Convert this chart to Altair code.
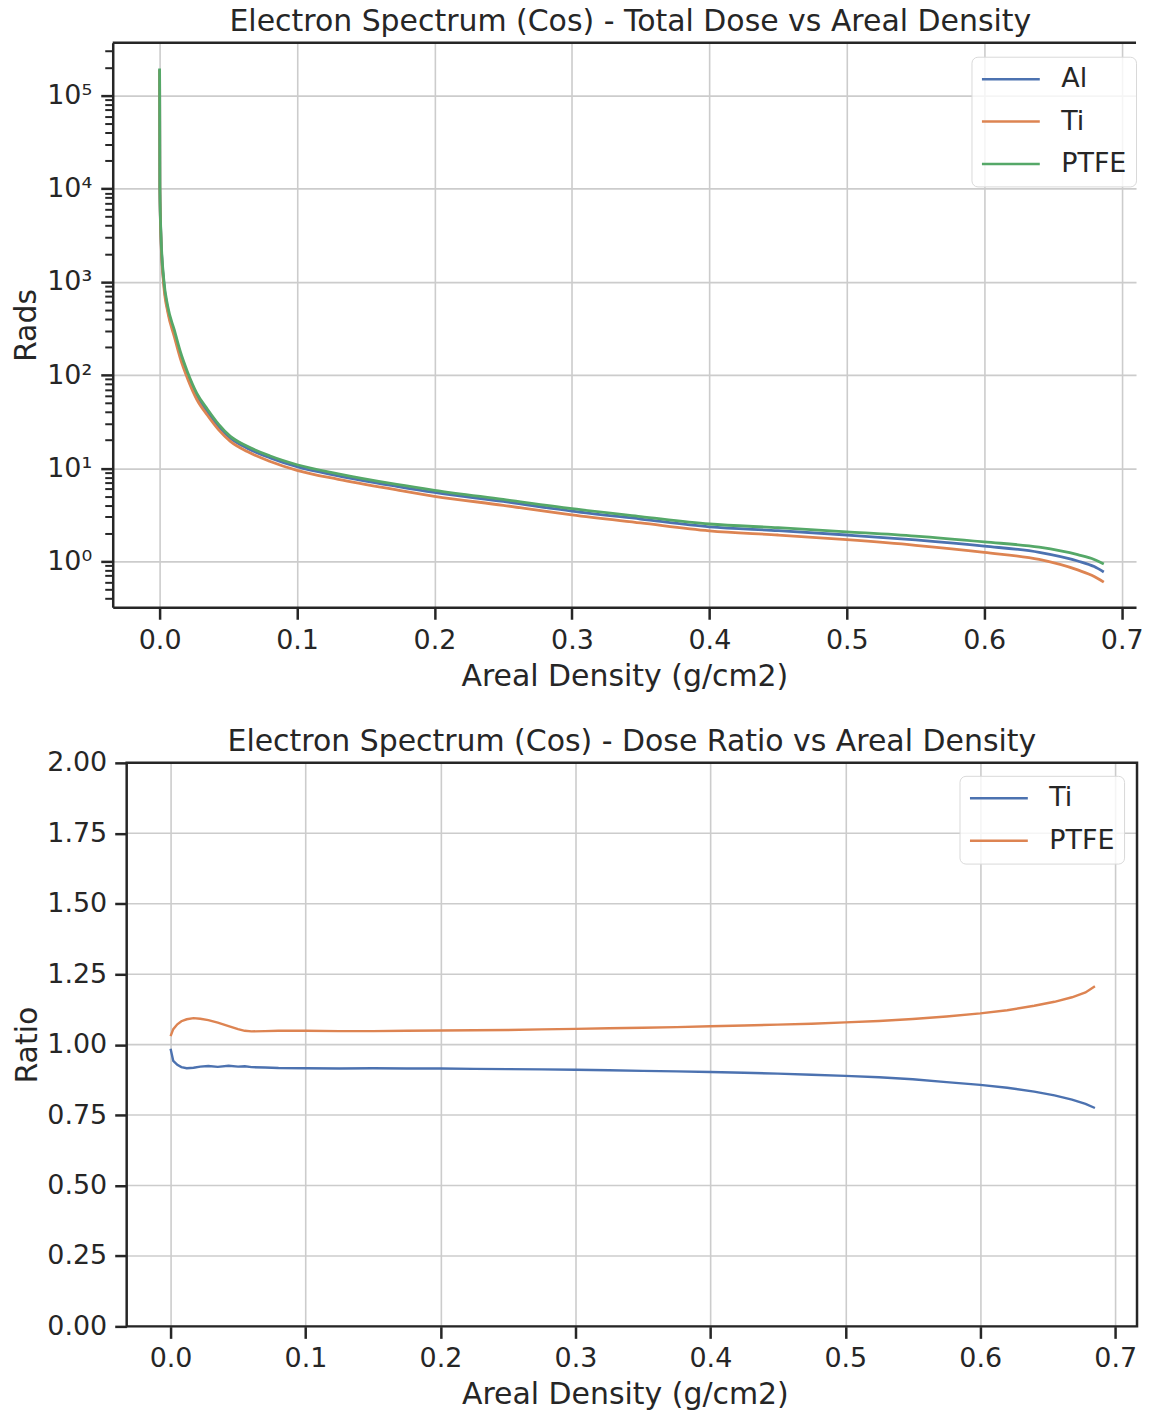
import altair as alt
import pandas as pd

# ---------------- data ----------------
dose_x = [0, 0.0002, 0.001, 0.003, 0.006, 0.0107, 0.015, 0.0203, 0.027, 0.0348,
          0.043, 0.0515, 0.0638, 0.08, 0.1, 0.13, 0.1726, 0.2, 0.25, 0.3,
          0.35, 0.4, 0.45, 0.5, 0.55, 0.6, 0.64, 0.668, 0.68, 0.687]
dose_al = [190000, 10000, 3000, 1000, 500, 280, 165, 100, 60, 40,
           28, 21, 16.4, 13.0, 10.4, 8.3, 6.4, 5.5, 4.4, 3.47,
           2.85, 2.35, 2.14, 1.92, 1.7, 1.46, 1.25, 1.01, 0.88, 0.77]
dose_ti = [188000, 9800, 2850, 930, 470, 258, 152, 92, 55, 37,
           25.8, 19.4, 15.1, 11.9, 9.5, 7.6, 5.85, 5.0, 4.0, 3.16,
           2.59, 2.13, 1.92, 1.71, 1.49, 1.25, 1.05, 0.81, 0.69, 0.6]
dose_ptfe = [195000, 10500, 3200, 1080, 540, 305, 180, 108, 64, 43,
             29.6, 22, 17.2, 13.6, 10.9, 8.7, 6.7, 5.8, 4.62, 3.68,
             3.03, 2.52, 2.3, 2.08, 1.87, 1.62, 1.42, 1.18, 1.05, 0.94]

ratio_x = [0, 0.002, 0.005, 0.008, 0.012, 0.017, 0.022, 0.028, 0.035, 0.043,
           0.05, 0.055, 0.06, 0.07, 0.08, 0.1, 0.125, 0.15, 0.175, 0.2,
           0.225, 0.25, 0.275, 0.3, 0.325, 0.35, 0.375, 0.4, 0.425, 0.45,
           0.475, 0.5, 0.525, 0.55, 0.575, 0.6, 0.62, 0.64, 0.655, 0.668,
           0.678, 0.685]
ratio_ti = [0.985, 0.942, 0.928, 0.92, 0.916, 0.918, 0.922, 0.924, 0.921, 0.925,
            0.922, 0.923, 0.920, 0.919, 0.917, 0.916, 0.915, 0.916, 0.915, 0.915,
            0.914, 0.913, 0.912, 0.911, 0.909, 0.907, 0.905, 0.903, 0.900, 0.897,
            0.893, 0.889, 0.884, 0.877, 0.867, 0.857, 0.847, 0.833, 0.82, 0.805,
            0.79, 0.775]
ratio_ptfe = [1.030, 1.055, 1.072, 1.083, 1.090, 1.094, 1.092, 1.087, 1.078, 1.066,
              1.055, 1.049, 1.047, 1.048, 1.049, 1.049, 1.048, 1.048, 1.049, 1.050,
              1.051, 1.052, 1.054, 1.056, 1.058, 1.060, 1.062, 1.065, 1.068, 1.071,
              1.074, 1.079, 1.084, 1.091, 1.100, 1.111, 1.122, 1.138, 1.152, 1.168,
              1.185, 1.207]

dose_materials = ["Al", "Ti", "PTFE"]
ratio_materials = ["Ti", "PTFE"]
x_ticks = [0.0, 0.1, 0.2, 0.3, 0.4, 0.5, 0.6, 0.7]
ratio_ticks = [0.0, 0.25, 0.5, 0.75, 1.0, 1.25, 1.5, 1.75, 2.0]
log_domain = [0.322, 368000]
log_ticks = [m * 10 ** k for k in range(-1, 6) for m in range(1, 10)
             if log_domain[0] <= m * 10 ** k <= log_domain[1]]

BLUE, ORANGE, GREEN = "#4C72B0", "#DD8452", "#55A868"
INK = "#262626"
GRID = "#cccccc"
FONT = "DejaVu Sans"

dose_df = pd.concat([
    pd.DataFrame({"x": dose_x, "y": dose_al, "Material": "Al"}),
    pd.DataFrame({"x": dose_x, "y": dose_ti, "Material": "Ti"}),
    pd.DataFrame({"x": dose_x, "y": dose_ptfe, "Material": "PTFE"}),
], ignore_index=True)
ratio_df = pd.concat([
    pd.DataFrame({"x": ratio_x, "y": ratio_ti, "Material": "Ti"}),
    pd.DataFrame({"x": ratio_x, "y": ratio_ptfe, "Material": "PTFE"}),
], ignore_index=True)
ratio_grid_df = pd.DataFrame({"y": ratio_ticks})
one_row = pd.DataFrame({"k": [0]})

LEGEND_STYLE = dict(
    title=None, symbolType="stroke",
    symbolSize=3364, symbolStrokeWidth=2.5, clipHeight=27, rowPadding=14.5,
    labelOffset=20, labelFontSize=27, labelFont=FONT, labelColor=INK,
    padding=9, strokeColor="#d9d9d9", cornerRadius=6,
    fillColor="rgba(255,255,255,0.8)",
)

major_test = "abs(log(datum.value)/LN10 - round(log(datum.value)/LN10)) < 0.001"
sup_expr = ("abs(log(datum.value)/LN10 - round(log(datum.value)/LN10)) < 0.001 ? "
            "'10' + ['⁻¹','⁰','¹','²','³','⁴','⁵'][round(log(datum.value)/LN10) + 1] : ''")

ORIGIN_X = 114        # page x of the plot origin (left edge of the top frame)

# ---------------- top panel ----------------
PXU_TOP = 1378.0
ZERO_TOP = 161
TW, TH = 1026, 566
top_left = -(ZERO_TOP - ORIGIN_X) / PXU_TOP
top_domain = [top_left, top_left + TW / PXU_TOP]

top_lines = alt.Chart(dose_df).mark_line(strokeWidth=2.8, interpolate="monotone").encode(
    x=alt.X("x:Q", title="Areal Density (g/cm2)",
            scale=alt.Scale(domain=top_domain, nice=False, zero=False),
            axis=alt.Axis(values=x_ticks, format=".1f", tickSize=12, labelPadding=8,
                          titlePadding=8, domain=True, labelFlush=False)),
    y=alt.Y("y:Q", title="Rads",
            scale=alt.Scale(type="log", domain=log_domain, nice=False),
            axis=alt.Axis(values=log_ticks, labelExpr=sup_expr, labelOverlap=False,
                          labelFlush=False, labelPadding=9, titlePadding=5, domain=True,
                          tickSize={"condition": {"test": major_test, "value": 12}, "value": 8},
                          tickWidth={"condition": {"test": major_test, "value": 2.5}, "value": 2},
                          gridOpacity={"condition": {"test": major_test, "value": 1}, "value": 0})),
    color=alt.Color("Material:N",
                    scale=alt.Scale(domain=dose_materials, range=[BLUE, ORANGE, GREEN]),
                    sort=dose_materials,
                    legend=alt.Legend(orient="none", legendX=861, legendY=14, **LEGEND_STYLE)),
)
top_frame = alt.Chart(one_row).mark_rule(color=INK, strokeWidth=2.5).encode(
    x=alt.value(0), x2=alt.value(TW), y=alt.value(0))

top = alt.layer(top_lines, top_frame).properties(
    width=TW, height=TH,
    view=alt.ViewBackground(stroke="transparent"),
    title=alt.TitleParams("Electron Spectrum (Cos) - Total Dose vs Areal Density",
                          frame="group", anchor="middle", offset=-0.3, dx=6),
)

# ---------------- bottom panel ----------------
SHIFT = 14            # the bottom frame starts this far right of the top one
PXU_BOT = 1353.0
ZERO_BOT = 172
BW, BH = 1027, 565
bot_left = -(ZERO_BOT - ORIGIN_X) / PXU_BOT
bot_domain = [bot_left, bot_left + BW / PXU_BOT]

bot_grid = alt.Chart(ratio_grid_df).mark_rule(color=GRID, strokeWidth=1.6).encode(
    y=alt.Y("y:Q"), x=alt.value(SHIFT), x2=alt.value(BW))

bot_lines = alt.Chart(ratio_df).mark_line(strokeWidth=2.4).encode(
    x=alt.X("x:Q", title="Areal Density (g/cm2)",
            scale=alt.Scale(domain=bot_domain, nice=False, zero=False),
            axis=alt.Axis(values=x_ticks, format=".1f", tickSize=12, labelPadding=7.5,
                          titlePadding=8, labelFlush=False)),
    y=alt.Y("y:Q", title="Ratio",
            scale=alt.Scale(domain=[0, 2], nice=False, zero=False),
            axis=alt.Axis(values=ratio_ticks, format=".2f", tickSize=12, labelPadding=8,
                          titlePadding=4, labelFlush=False, grid=False, offset=-SHIFT)),
    color=alt.Color("Material:N",
                    scale=alt.Scale(domain=ratio_materials, range=[BLUE, ORANGE]),
                    sort=ratio_materials,
                    legend=alt.Legend(orient="top-right", offset=13, **LEGEND_STYLE)),
)
bot_frame = alt.Chart(one_row).mark_rect(
    fillOpacity=0, stroke=INK, strokeWidth=2.5).encode(
    x=alt.value(SHIFT), x2=alt.value(BW), y=alt.value(0), y2=alt.value(BH))

bottom = alt.layer(bot_grid, bot_lines, bot_frame).properties(
    width=BW, height=BH,
    view=alt.ViewBackground(stroke="transparent"),
    title=alt.TitleParams("Electron Spectrum (Cos) - Dose Ratio vs Areal Density",
                          frame="group", anchor="middle", offset=-8.5, dx=SHIFT / 2),
)

chart = alt.vconcat(top, bottom, spacing=33).resolve_scale(
    x="independent", y="independent", color="independent"
).properties(
    padding={"left": 2, "top": -4, "right": 0, "bottom": 0}
).configure(
    font=FONT,
).configure_axis(
    labelFont=FONT, titleFont=FONT, labelFontSize=27, titleFontSize=30,
    labelColor=INK, titleColor=INK, titleFontWeight="normal",
    tickColor=INK, tickWidth=2.5, domain=False, domainColor=INK, domainWidth=2.5,
    gridColor=GRID, gridWidth=1.6,
).configure_title(
    font=FONT, fontSize=30, fontWeight="normal", color=INK,
).configure_view(
    stroke=INK, strokeWidth=2.5,
)

chart.save("out.html", embed_options={"renderer": "svg", "actions": False})
